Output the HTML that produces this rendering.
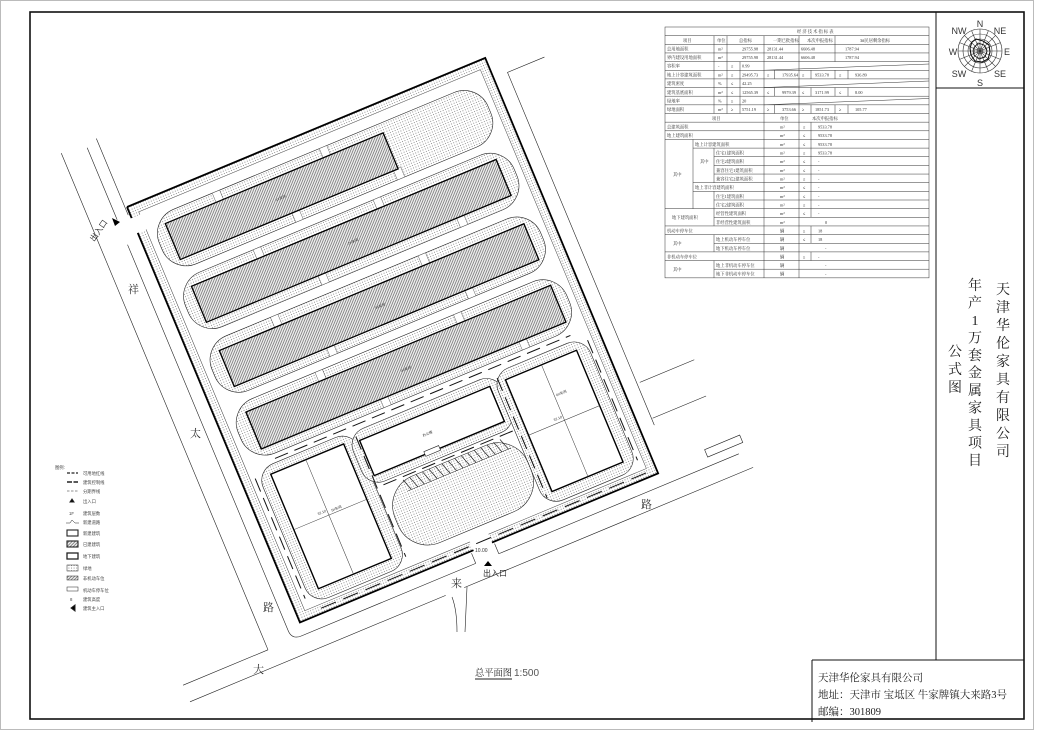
<!DOCTYPE html>
<html><head><meta charset="utf-8"><style>
html,body{margin:0;padding:0;background:#fff;}
svg{display:block;}
.t{font-family:"Liberation Sans","Noto Sans CJK SC",sans-serif;fill:#333;}
.tb{font-family:"Liberation Serif","Noto Serif CJK SC",serif;fill:#333;font-size:4.3px;}
.v{font-family:"Liberation Serif","Noto Serif CJK SC",serif;fill:#222;font-size:14px;text-anchor:middle;}
</style></head><body>
<svg width="1037" height="732" viewBox="0 0 1037 732" xmlns="http://www.w3.org/2000/svg">
<defs>
<pattern id="dots" width="2.6" height="2.6" patternUnits="userSpaceOnUse"><rect width="2.6" height="2.6" fill="#fff"/><circle cx="1.3" cy="1.3" r="0.5" fill="#777"/></pattern>
<pattern id="hatch" width="2.2" height="2.2" patternUnits="userSpaceOnUse" patternTransform="rotate(45)"><rect width="2.2" height="2.2" fill="#eee"/><line x1="0.5" y1="0" x2="0.5" y2="2.2" stroke="#666" stroke-width="0.7"/></pattern>
</defs>
<rect x="0.5" y="0.5" width="1033" height="729" fill="none" stroke="#bbb" stroke-width="1"/>
<rect x="30" y="12" width="994" height="707" fill="none" stroke="#111" stroke-width="1.6"/>
<line x1="936" y1="12" x2="936" y2="660" stroke="#111" stroke-width="1"/>
<line x1="936" y1="88" x2="1024" y2="88" stroke="#111" stroke-width="1"/>
<line x1="812" y1="660" x2="1024" y2="660" stroke="#111" stroke-width="1"/>
<line x1="812" y1="660" x2="812" y2="722" stroke="#111" stroke-width="1"/>

<g transform="translate(980,51)" fill="none" stroke="#333" stroke-width="0.6">
<circle r="22"/><circle r="17"/><circle r="12"/><circle r="7"/><circle r="3"/>
<line x1="0" y1="-22" x2="0" y2="22"/><line x1="-22" y1="0" x2="22" y2="0"/><line x1="-15.6" y1="-15.6" x2="15.6" y2="15.6"/><line x1="-15.6" y1="15.6" x2="15.6" y2="-15.6"/><line x1="-8.4" y1="-20.3" x2="8.4" y2="20.3"/><line x1="8.4" y1="-20.3" x2="-8.4" y2="20.3"/><line x1="-20.3" y1="-8.4" x2="20.3" y2="8.4"/><line x1="-20.3" y1="8.4" x2="20.3" y2="-8.4"/>
<path d="M-4,-12 L3,-10 L9,-6 L10,1 L8,8 L2,11 L-5,10 L-9,4 L-10,-3 L-8,-9 Z" stroke="#111" stroke-width="1.1"/>
<path d="M-2,-8 L4,-6 L7,0 L5,6 L-1,8 L-6,4 L-6,-3 Z" stroke="#111" stroke-width="0.8"/>
</g>
<g class="t" style="font-size:9px" text-anchor="middle">
<text x="980" y="27">N</text><text x="980" y="86">S</text><text x="1007" y="55">E</text><text x="953" y="55">W</text>
<text x="1000" y="34">NE</text><text x="959" y="34">NW</text><text x="1000" y="77">SE</text><text x="959" y="77">SW</text>
</g>

<g class="v">
<text x="1003" y="294">天</text><text x="1003" y="312">津</text><text x="1003" y="330">华</text><text x="1003" y="348">伦</text><text x="1003" y="366">家</text><text x="1003" y="384">具</text><text x="1003" y="402">有</text><text x="1003" y="420">限</text><text x="1003" y="438">公</text><text x="1003" y="456">司</text>
<text x="975" y="290">年</text><text x="975" y="307.5">产</text><text x="975" y="325">1</text><text x="975" y="342.5">万</text><text x="975" y="360">套</text><text x="975" y="377.5">金</text><text x="975" y="395">属</text><text x="975" y="412.5">家</text><text x="975" y="430">具</text><text x="975" y="447.5">项</text><text x="975" y="465">目</text>
<text x="955" y="356">公</text><text x="955" y="374">式</text><text x="955" y="392">图</text>
</g>

<g style="font-family:'Liberation Serif','Noto Serif CJK SC',serif;font-size:10.5px;fill:#222">
<text x="818" y="681">天津华伦家具有限公司</text>
<text x="818" y="698">地址：天津市 宝坻区 牛家牌镇大来路3号</text>
<text x="818" y="715">邮编：301809</text>
</g>

<text x="475" y="676" textLength="37" lengthAdjust="spacingAndGlyphs" style="font-family:'Liberation Serif','Noto Serif CJK SC',serif;font-size:9.5px;fill:#222">总平面图</text>
<line x1="475" y1="679" x2="512" y2="679" stroke="#222" stroke-width="1"/>
<text x="514" y="676" class="t" style="font-size:10px;fill:#555">1:500</text>

<g stroke="#333" stroke-width="0.5" fill="none">
<rect x="665" y="27" width="264" height="250.85"/>
<line x1="665" y1="35.65" x2="929" y2="35.65"/><line x1="665" y1="44.3" x2="929" y2="44.3"/><line x1="665" y1="52.95" x2="929" y2="52.95"/><line x1="665" y1="61.6" x2="929" y2="61.6"/><line x1="665" y1="70.25" x2="929" y2="70.25"/><line x1="665" y1="78.9" x2="929" y2="78.9"/><line x1="665" y1="87.55" x2="929" y2="87.55"/><line x1="665" y1="96.2" x2="929" y2="96.2"/><line x1="665" y1="104.85" x2="929" y2="104.85"/><line x1="665" y1="113.5" x2="929" y2="113.5"/>
<line x1="665" y1="122.15" x2="929" y2="122.15"/><line x1="665" y1="130.8" x2="929" y2="130.8"/><line x1="665" y1="139.45" x2="929" y2="139.45"/>
<line x1="693" y1="148.1" x2="929" y2="148.1"/><line x1="714" y1="156.75" x2="929" y2="156.75"/><line x1="714" y1="165.4" x2="929" y2="165.4"/><line x1="714" y1="174.05" x2="929" y2="174.05"/><line x1="693" y1="182.7" x2="929" y2="182.7"/><line x1="693" y1="191.35" x2="929" y2="191.35"/><line x1="714" y1="200" x2="929" y2="200"/>
<line x1="665" y1="208.65" x2="929" y2="208.65"/><line x1="714" y1="217.3" x2="929" y2="217.3"/><line x1="665" y1="225.95" x2="929" y2="225.95"/><line x1="665" y1="234.6" x2="929" y2="234.6"/><line x1="714" y1="243.25" x2="929" y2="243.25"/><line x1="665" y1="251.9" x2="929" y2="251.9"/><line x1="665" y1="260.55" x2="929" y2="260.55"/><line x1="714" y1="269.2" x2="929" y2="269.2"/>
<line x1="714" y1="35.65" x2="714" y2="113.5"/><line x1="727" y1="35.65" x2="727" y2="113.5"/><line x1="764" y1="35.65" x2="764" y2="277.85"/><line x1="799" y1="35.65" x2="799" y2="277.85"/><line x1="835" y1="35.65" x2="835" y2="61.6"/>
<line x1="740" y1="61.6" x2="740" y2="113.5"/>
<line x1="774.5" y1="70.25" x2="774.5" y2="78.9"/><line x1="811" y1="70.25" x2="811" y2="78.9"/><line x1="835" y1="70.25" x2="835" y2="78.9"/><line x1="848" y1="70.25" x2="848" y2="78.9"/>
<line x1="774.5" y1="87.55" x2="774.5" y2="96.2"/><line x1="811" y1="87.55" x2="811" y2="96.2"/><line x1="835" y1="87.55" x2="835" y2="96.2"/><line x1="848" y1="87.55" x2="848" y2="96.2"/>
<line x1="774.5" y1="104.85" x2="774.5" y2="113.5"/><line x1="811" y1="104.85" x2="811" y2="113.5"/><line x1="835" y1="104.85" x2="835" y2="113.5"/><line x1="848" y1="104.85" x2="848" y2="113.5"/>
<line x1="764" y1="70.25" x2="929" y2="64"/><line x1="764" y1="87.55" x2="929" y2="81"/><line x1="764" y1="104.85" x2="929" y2="98.5"/>
<line x1="811" y1="122.15" x2="811" y2="217.3"/><line x1="811" y1="225.95" x2="811" y2="243.25"/><line x1="811" y1="251.9" x2="811" y2="260.55"/>
<line x1="693" y1="139.45" x2="693" y2="208.65"/>
<line x1="714" y1="148.1" x2="714" y2="182.7"/><line x1="714" y1="191.35" x2="714" y2="225.95"/><line x1="714" y1="234.6" x2="714" y2="251.9"/><line x1="714" y1="260.55" x2="714" y2="277.85"/>
</g>
<g class="tb">
<text x="797" y="33">经 济 技 术 指 标 表</text>
<text x="683" y="42">项目</text><text x="717" y="42">单位</text><text x="739" y="42">总指标</text><text x="773" y="42">一期已批指标</text><text x="807" y="42">本次申报指标</text><text x="860" y="42">3#民居剩余指标</text>
<text x="667" y="50.5">总用地面积</text><text x="718" y="50.5">m²</text><text x="742" y="50.5">29755.98</text><text x="767" y="50.5">28131.44</text><text x="801" y="50.5">6606.48</text><text x="845" y="50.5">1787.94</text>
<text x="667" y="59">界内建设用地面积</text><text x="718" y="59">m²</text><text x="742" y="59">29755.98</text><text x="767" y="59">28131.44</text><text x="801" y="59">6606.48</text><text x="845" y="59">1787.94</text>
<text x="667" y="67.5">容积率</text><text x="718" y="67.5">-</text><text x="731" y="67.5">≤</text><text x="742" y="67.5">0.99</text>
<text x="667" y="76.5">地上计容建筑面积</text><text x="718" y="76.5">m²</text><text x="731" y="76.5">≤</text><text x="742" y="76.5">29495.73</text><text x="767" y="76.5">≤</text><text x="782" y="76.5">17935.64</text><text x="802" y="76.5">≤</text><text x="815" y="76.5">9533.78</text><text x="839" y="76.5">≤</text><text x="855" y="76.5">936.89</text>
<text x="667" y="85">建筑密度</text><text x="718" y="85">%</text><text x="731" y="85">≤</text><text x="742" y="85">42.25</text>
<text x="667" y="94">建筑基底面积</text><text x="718" y="94">m²</text><text x="731" y="94">≤</text><text x="742" y="94">12565.39</text><text x="767" y="94">≤</text><text x="782" y="94">9979.39</text><text x="802" y="94">≤</text><text x="815" y="94">3171.99</text><text x="839" y="94">≤</text><text x="855" y="94">8.00</text>
<text x="667" y="102.5">绿地率</text><text x="718" y="102.5">%</text><text x="731" y="102.5">≥</text><text x="742" y="102.5">20</text>
<text x="667" y="111">绿地面积</text><text x="718" y="111">m²</text><text x="731" y="111">≥</text><text x="742" y="111">5751.19</text><text x="767" y="111">≥</text><text x="782" y="111">3753.66</text><text x="802" y="111">≥</text><text x="815" y="111">1851.73</text><text x="839" y="111">≥</text><text x="855" y="111">105.77</text>
<text x="712" y="120">项目</text><text x="780" y="120">单位</text><text x="812" y="120">本次申报指标</text>
<text x="667" y="128.5">总建筑面积</text><text x="780" y="128.5">m²</text><text x="803" y="128.5">≤</text><text x="818" y="128.5">9533.78</text>
<text x="667" y="137">地上建筑面积</text><text x="780" y="137">m²</text><text x="803" y="137">≤</text><text x="818" y="137">9533.78</text>
<text x="695" y="146">地上计容建筑面积</text><text x="780" y="146">m²</text><text x="803" y="146">≤</text><text x="818" y="146">9533.78</text>
<text x="716" y="154.5">住宅1建筑面积</text><text x="780" y="154.5">m²</text><text x="803" y="154.5">≤</text><text x="818" y="154.5">9533.78</text>
<text x="716" y="163">住宅2建筑面积</text><text x="780" y="163">m²</text><text x="803" y="163">≤</text><text x="818" y="163">-</text>
<text x="716" y="172">兼容住宅1建筑面积</text><text x="780" y="172">m²</text><text x="803" y="172">≤</text><text x="818" y="172">-</text>
<text x="716" y="180.5">兼容住宅2建筑面积</text><text x="780" y="180.5">m²</text><text x="803" y="180.5">≤</text><text x="818" y="180.5">-</text>
<text x="695" y="189">地上非计容建筑面积</text><text x="780" y="189">m²</text><text x="803" y="189">≤</text><text x="818" y="189">-</text>
<text x="716" y="198">住宅1建筑面积</text><text x="780" y="198">m²</text><text x="803" y="198">≤</text><text x="818" y="198">-</text>
<text x="716" y="206.5">住宅2建筑面积</text><text x="780" y="206.5">m²</text><text x="803" y="206.5">≤</text><text x="818" y="206.5">-</text>
<text x="700" y="163">其中</text><text x="673" y="176">其中</text>
<text x="672" y="219">地下建筑面积</text><text x="716" y="215">经营性建筑面积</text><text x="780" y="215">m²</text><text x="803" y="215">≤</text><text x="818" y="215">-</text>
<text x="716" y="224">非经营性建筑面积</text><text x="780" y="224">m²</text><text x="825" y="224">0</text>
<text x="667" y="232.5">机动车停车位</text><text x="780" y="232.5">辆</text><text x="803" y="232.5">≥</text><text x="818" y="232.5">18</text>
<text x="673" y="245">其中</text><text x="716" y="241">地上机动车停车位</text><text x="780" y="241">辆</text><text x="803" y="241">≤</text><text x="818" y="241">18</text>
<text x="716" y="250">地下机动车停车位</text><text x="780" y="250">辆</text><text x="825" y="250">-</text>
<text x="667" y="258.5">非机动车停车位</text><text x="780" y="258.5">辆</text><text x="803" y="258.5">≥</text><text x="818" y="258.5">-</text>
<text x="673" y="271">其中</text><text x="716" y="267">地上非机动车停车位</text><text x="780" y="267">辆</text><text x="825" y="267">-</text>
<text x="716" y="275.5">地下非机动车停车位</text><text x="780" y="275.5">辆</text><text x="825" y="275.5">-</text>
</g>

<g transform="translate(127,207) rotate(-22.6)" stroke="#222" stroke-width="0.6" fill="none">
<line x1="-40" y1="-75" x2="-40" y2="463"/>
<line x1="-132" y1="463" x2="-40" y2="463"/>
<line x1="-132" y1="481" x2="145" y2="481"/>
<line x1="165" y1="481" x2="478" y2="481"/>
<line x1="-14" y1="-70" x2="-14" y2="8"/>
<path d="M-14,35 L-14,453 Q-14,463 -4,463 L185,463"/>
<line x1="-2" y1="-75" x2="-2" y2="8"/>
<line x1="210" y1="463" x2="470" y2="463"/>
<path d="M185,463 L185,452 M210,463 L210,452"/>
<path d="M443,22 L403,22 L403,404"/>
<line x1="406" y1="359" x2="465" y2="359"/>
<line x1="404" y1="397" x2="462" y2="397"/>
<rect x="440" y="446" width="38" height="8"/>
<path d="M0,0 L388,0 L388,450 L0,450 Z M9,9 L9,441 L379,441 L379,9 Z" fill="url(#dots)" fill-rule="evenodd" stroke="none"/>
<rect x="9" y="9" width="370" height="432" stroke="#444" stroke-width="0.5"/>
<rect x="188" y="438" width="20" height="14" fill="#fff" stroke="none"/>
<rect x="-6" y="12" width="18" height="16" fill="#fff" stroke="none"/>
<path d="M0,0 L388,0 L388,450 L208,450 M188,450 L0,450 L0,28 M0,12 L0,0" stroke="#000" stroke-width="1.8"/>
<rect x="16" y="20" width="356" height="59" rx="26" fill="url(#dots)"/>
<rect x="16" y="88" width="356" height="59" rx="26" fill="url(#dots)"/>
<rect x="16" y="157" width="356" height="59" rx="26" fill="url(#dots)"/>
<rect x="16" y="225" width="356" height="59" rx="26" fill="url(#dots)"/>
<g fill="#fff" stroke="#444" stroke-width="0.4">
<rect x="84" y="20" width="8" height="11"/><rect x="200" y="20" width="8" height="11"/><rect x="150" y="68" width="8" height="11"/><rect x="260" y="68" width="8" height="11"/>
<rect x="100" y="88" width="8" height="11"/><rect x="230" y="88" width="8" height="11"/><rect x="150" y="136" width="8" height="11"/><rect x="300" y="136" width="8" height="11"/>
<rect x="90" y="157" width="8" height="11"/><rect x="250" y="157" width="8" height="11"/><rect x="130" y="205" width="8" height="11"/><rect x="280" y="205" width="8" height="11"/>
<rect x="110" y="225" width="8" height="11"/><rect x="260" y="225" width="8" height="11"/><rect x="160" y="273" width="8" height="11"/><rect x="310" y="273" width="8" height="11"/>
</g>
<g fill="url(#hatch)" stroke="#000" stroke-width="1.3">
<rect x="29" y="30" width="236" height="39"/>
<rect x="29" y="98" width="330" height="39"/>
<rect x="30" y="168" width="330" height="39"/>
<rect x="31" y="235" width="330" height="40"/>
</g>
<rect x="18" y="293" width="104" height="145" rx="18" fill="url(#dots)"/>
<rect x="115" y="295" width="162" height="57" rx="18" fill="url(#dots)"/>
<rect x="272" y="295" width="100" height="143" rx="18" fill="url(#dots)"/>
<rect x="128" y="358" width="144" height="72" rx="32" fill="url(#dots)"/>
<path d="M150,358 l4,12 M157,358 l4,12 M164,358 l4,12 M171,358 l4,12 M178,358 l4,12 M185,358 l4,12 M192,358 l4,12 M199,358 l4,12 M206,358 l4,12 M213,358 l4,12 M220,358 l4,12 M227,358 l4,12 M234,358 l4,12 M241,358 l4,12 M248,358 l4,12 M255,358 l4,12" stroke-width="0.7"/>
<line x1="150" y1="370" x2="262" y2="370" stroke-width="0.5"/>
<g fill="#fff" stroke="#000" stroke-width="1.4">
<rect x="30" y="302" width="79" height="124"/>
<rect x="125" y="305" width="141" height="38"/>
<rect x="283" y="305" width="77" height="121"/>
</g>
<rect x="180" y="340" width="16" height="5" fill="#fff" stroke-width="0.6"/>
<g stroke-width="0.5" stroke="#333">
<line x1="68" y1="302" x2="68" y2="426"/><line x1="30" y1="362" x2="109" y2="362"/>
<line x1="322" y1="305" x2="322" y2="426"/><line x1="283" y1="365" x2="360" y2="365"/>
</g>
<g stroke="#111" stroke-width="1" stroke-dasharray="14 7">
<line x1="40" y1="289" x2="360" y2="289"/>
<line x1="25" y1="445" x2="380" y2="445" stroke-dasharray="16 8"/>
<line x1="123" y1="300" x2="123" y2="430"/>
<line x1="276" y1="300" x2="276" y2="430"/>
<line x1="130" y1="355" x2="270" y2="355"/>
<line x1="14" y1="300" x2="14" y2="430"/>
<line x1="374" y1="300" x2="374" y2="430"/>
</g>
<g class="t" style="font-size:3.5px" stroke="none">
<text x="140" y="52">1#车间</text><text x="190" y="120">2#车间</text><text x="190" y="190">3#车间</text><text x="190" y="258">4#车间</text>
<text x="185" y="326">办公楼</text><text x="72" y="360">5#车间</text><text x="324" y="340">6#车间</text>
<text x="58" y="358">32.10</text><text x="312" y="362">32.10</text>
</g>
</g>
<path d="M467,587 L465,632 M452,597 Q457,610 457,632" stroke="#222" stroke-width="0.6" fill="none"/>
<path d="M484,566 l4,-5 l4,5 z" fill="#000"/>
<path d="M115,226 l-3,-8 l8,4 z" fill="#000"/>
<g class="t" style="font-size:8px">
<text x="483" y="576">出入口</text>
<text x="475" y="552" style="font-size:5px">10.00</text>
<text transform="translate(94,242) rotate(-55)">出入口</text>
</g>
<g style="font-family:'Liberation Serif','Noto Serif CJK SC',serif;font-size:11px;fill:#333">
<text x="128" y="293">祥</text><text x="190" y="437">太</text><text x="263" y="611">路</text>
<text x="253" y="673">大</text><text x="451" y="587">来</text><text x="641" y="508">路</text>
</g>

<g class="t" style="font-size:4.3px;fill:#444">
<text x="55" y="469">图例:</text>
<text x="83" y="475">可用地红线</text><text x="83" y="484">建筑控制线</text><text x="83" y="493">分期界线</text><text x="83" y="503">出入口</text><text x="83" y="515">建筑层数</text><text x="83" y="524">新建道路</text><text x="83" y="535">新建建筑</text><text x="83" y="546">已建建筑</text><text x="83" y="558">地下建筑</text><text x="83" y="570">绿地</text><text x="83" y="580">非机动车位</text><text x="83" y="592">机动车停车位</text><text x="83" y="601">建筑高度</text><text x="83" y="610">建筑主入口</text>
<text x="69" y="515">1F</text><text x="70" y="601">8</text>
</g>
<g stroke="#222" fill="none">
<line x1="67" y1="473" x2="78" y2="473" stroke-width="1.2" stroke-dasharray="3 1.5"/>
<line x1="67" y1="482" x2="78" y2="482" stroke-width="1.4" stroke-dasharray="5 1.5"/>
<line x1="67" y1="491" x2="78" y2="491" stroke-width="0.6" stroke-dasharray="2.5 1.5"/>
<path d="M70,502 l2,-3 l2,3 z" fill="#000"/>
<path d="M66,523 l4,0 l2,-3 l3,3 l4,0" stroke-width="0.5"/>
<rect x="67" y="530" width="11" height="6" stroke-width="1.1" fill="#fff"/>
<rect x="67" y="541" width="11" height="6" stroke-width="1.1" fill="url(#hatch)"/>
<rect x="67" y="553" width="11" height="6" stroke-width="1.3" fill="#fff"/>
<rect x="67" y="565" width="11" height="6" stroke-width="0.5" fill="url(#dots)"/>
<rect x="67" y="576" width="11" height="4" stroke-width="0.5" fill="url(#hatch)"/>
<rect x="67" y="587" width="11" height="4" stroke-width="0.5"/>
<path d="M71,608 l4,-3 l0,6 z" fill="#000"/>
</g>
</svg>
</body></html>
